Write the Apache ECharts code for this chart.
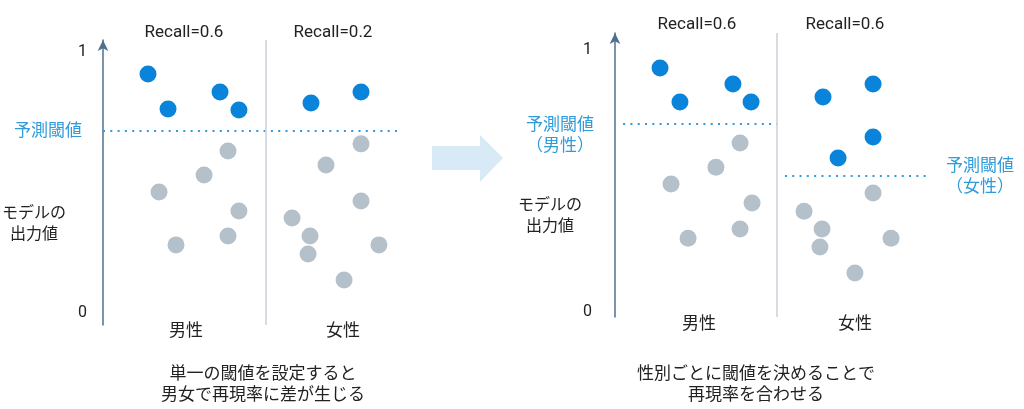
<html lang="ja">
<head>
<meta charset="UTF-8">
<title>閾値と再現率</title>
<script src="https://cdn.jsdelivr.net/npm/echarts@6/dist/echarts.min.js"></script>
<style>
  html, body { margin: 0; padding: 0; background: #fff; }
  #main { width: 1024px; height: 409px; }
</style>
</head>
<body>
<div id="main"></div>
<script type="text/javascript">
// x: 0-1 = 男性, 1-2 = 女性 ; y: モデルの出力値 (0-1)
var groups = ['男性', '女性'];
var yTicks = [0, 1];

// 左: 単一の閾値
var leftBlue = [[0.276, 0.916], [0.399, 0.782], [0.718, 0.847], [0.834, 0.778],
                [1.276, 0.805], [1.583, 0.847]];
var leftGray = [[0.767, 0.621], [0.620, 0.529], [0.344, 0.464], [0.834, 0.391],
                [0.448, 0.261], [0.767, 0.295],
                [1.583, 0.648], [1.368, 0.567], [1.583, 0.429], [1.160, 0.364],
                [1.270, 0.295], [1.258, 0.226], [1.693, 0.261], [1.479, 0.126]];
var leftThreshold = [[0, 0.697], [1.81, 0.697]];
var leftRecall = ['Recall=0.6', 'Recall=0.2'];

// 右: 性別ごとの閾値
var rightBlue = [[0.278, 0.931], [0.401, 0.802], [0.728, 0.870], [0.840, 0.802],
                 [1.284, 0.821], [1.593, 0.870], [1.593, 0.668], [1.377, 0.588]];
var rightGray = [[0.772, 0.645], [0.623, 0.553], [0.346, 0.489], [0.846, 0.416],
                 [0.451, 0.282], [0.772, 0.317],
                 [1.593, 0.454], [1.167, 0.385], [1.278, 0.317], [1.265, 0.248],
                 [1.704, 0.282], [1.481, 0.149]];
var rightThresholdMale = [[0.05, 0.718], [1.0, 0.718]];
var rightThresholdFemale = [[1.049, 0.519], [1.932, 0.519]];
var rightRecall = ['Recall=0.6', 'Recall=0.6'];

var BLUE = '#0a84da', GRAY = '#b5c1ca', LABEL_BLUE = '#2f9bdb', TXT = '#222';
var JP = '"Noto Sans CJK JP", "Noto Sans", sans-serif';
var EN = 'Roboto, "Noto Sans", sans-serif';

var myChart = echarts.init(document.getElementById('main'));

function yAxisOf(idx, min, max, margin) {
    return {
        gridIndex: idx, type: 'value', min: min, max: max,
        axisLine: { show: true, symbol: ['none', 'arrow'], symbolSize: [8, 11],
                    lineStyle: { color: '#4f6f8f', width: 1.5 } },
        axisTick: { show: false },
        splitLine: { show: false },
        axisLabel: { customValues: yTicks, margin: margin, color: TXT,
                     fontSize: 16, fontFamily: EN }
    };
}
function xAxisOf(idx) {
    return { gridIndex: idx, type: 'value', min: 0, max: 2, show: false };
}
function dots(idx, data, color) {
    return { type: 'scatter', xAxisIndex: idx, yAxisIndex: idx, data: data,
             symbolSize: 17, itemStyle: { color: color, opacity: 1 }, silent: true, z: 5 };
}
function dotted(idx, data) {
    return { type: 'line', xAxisIndex: idx, yAxisIndex: idx, data: data, symbol: 'none',
             lineStyle: { color: LABEL_BLUE, width: 2, type: [2, 5.3] }, silent: true, z: 3 };
}
function divider(idx) {
    return { type: 'scatter', xAxisIndex: idx, yAxisIndex: idx, data: [], silent: true,
             markLine: { symbol: 'none', silent: true, label: { show: false },
                         lineStyle: { color: '#c9d1d8', width: 1.5, type: 'solid' },
                         data: [{ xAxis: 1 }] } };
}
function txt(x, y, s, size, color, font) {
    return { type: 'text', x: x, y: y, style: { text: s, fontSize: size, fill: color || TXT,
             fontFamily: font || JP, align: 'center', verticalAlign: 'middle', lineHeight: 21 } };
}

option = {
    animation: false,
    grid: [
        { left: 103, top: 40, width: 326, height: 285 },
        { left: 615, top: 33, width: 324, height: 284 }
    ],
    xAxis: [xAxisOf(0), xAxisOf(1)],
    yAxis: [yAxisOf(0, -0.046, 1.046, 16), yAxisOf(1, -0.019, 1.065, 23)],
    series: [
        divider(0), dotted(0, leftThreshold), dots(0, leftBlue, BLUE), dots(0, leftGray, GRAY),
        divider(1), dotted(1, rightThresholdMale), dotted(1, rightThresholdFemale),
        dots(1, rightBlue, BLUE), dots(1, rightGray, GRAY)
    ],
    graphic: [
        txt(184, 33, leftRecall[0], 17, TXT, EN),
        txt(333, 33, leftRecall[1], 17, TXT, EN),
        txt(697, 25, rightRecall[0], 17, TXT, EN),
        txt(845, 25, rightRecall[1], 17, TXT, EN),
        txt(186, 330, groups[0], 17),
        txt(343, 330, groups[1], 17),
        txt(699, 323, groups[0], 17),
        txt(855, 323, groups[1], 17),
        txt(34, 222, 'モデルの\n出力値', 16),
        txt(550, 214, 'モデルの\n出力値', 16),
        txt(48, 130, '予測閾値', 17, LABEL_BLUE),
        txt(560, 134, '予測閾値\n（男性）', 17, LABEL_BLUE),
        txt(980, 175, '予測閾値\n（女性）', 17, LABEL_BLUE),
        txt(263, 383, '単一の閾値を設定すると\n男女で再現率に差が生じる', 17),
        txt(756, 383, '性別ごとに閾値を決めることで\n再現率を合わせる', 17),
        { type: 'polygon', shape: { points: [[432, 146], [480, 146], [480, 135], [503, 158],
                                             [480, 182], [480, 170], [432, 170]] },
          style: { fill: '#d9eaf7' } }
    ]
};

myChart.setOption(option);
</script>
</body>
</html>
